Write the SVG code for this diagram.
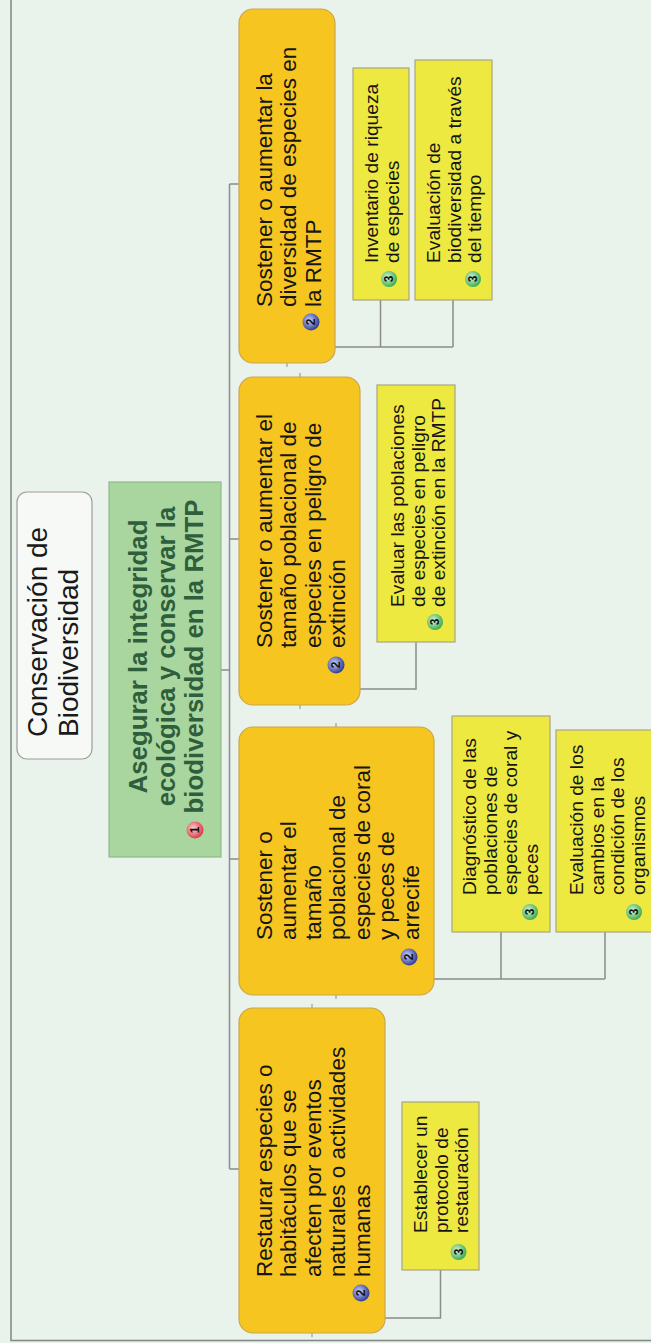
<svg xmlns="http://www.w3.org/2000/svg" width="651" height="1343" viewBox="0 0 651 1343">
<style>
.o{font-family:"Liberation Sans",Arial,sans-serif;font-size:22.5px;fill:#151515}
.y{font-family:"Liberation Sans",Arial,sans-serif;font-size:19.2px;fill:#151515}
.g{font-family:"Liberation Sans",Arial,sans-serif;font-size:25.8px;font-weight:bold;fill:#2F5E3C;text-anchor:middle}
.t{font-family:"Liberation Sans",Arial,sans-serif;font-size:28px;fill:#1a1a1a}
.bn{font-family:"Liberation Sans",Arial,sans-serif;font-size:12px;font-weight:bold;fill:#111;text-anchor:middle}
.orange{fill:#F6C51F;stroke:#C8A84E;stroke-width:1.2}
.yellow{fill:#EEE941;stroke:#A9A683;stroke-width:1.2}
.conn{fill:none;stroke:#8C8C8C;stroke-width:1.5}
.tick{stroke:#8C8C8C;stroke-width:1}
</style>
<defs>
<radialGradient id="b1" cx="0.4" cy="0.4" r="0.65"><stop offset="0" stop-color="#FFD0D0"/><stop offset="1" stop-color="#D9303E"/></radialGradient>
<radialGradient id="b2" cx="0.4" cy="0.4" r="0.65"><stop offset="0" stop-color="#C8D2FF"/><stop offset="1" stop-color="#26318C"/></radialGradient>
<radialGradient id="b3" cx="0.4" cy="0.4" r="0.65"><stop offset="0" stop-color="#D8F8D8"/><stop offset="1" stop-color="#34A646"/></radialGradient>
</defs>
<rect x="0" y="0" width="651" height="1343" fill="#EAF2EC"/>
<rect x="11" y="-5" width="650" height="1345.5" fill="none" stroke="#858585" stroke-width="1.5"/>

<g id="connectors">
<path class="conn" d="M221,670 H229.5 M229.5,184 V1169 M229.5,184 H239 M229.5,539 H239 M229.5,859 H239 M229.5,1169 H239"/>
<path class="conn" d="M335,347 H453 M380.5,347 V300 M453,347 V300"/>
<path class="conn" d="M360,689 H416 V642"/>
<path class="conn" d="M434,979 H605 M501,979 V932 M605,979 V932"/>
<path class="conn" d="M385,1318 H440.5 V1270"/>
<path class="tick" d="M287,363 V367 M300,373 V377 M300,705 V709 M336,723 V727 M336,995 V999 M312,1004 V1008 M312,1333 V1337"/>
</g>

<g id="title">
<rect x="17" y="492" width="75" height="267" rx="10" fill="#F6F9F6" stroke="#9C9C9C" stroke-width="1.2"/>
<text class="t" transform="translate(47,737) rotate(-90)"><tspan x="0" y="0">Conservación de</tspan><tspan x="0" y="31">Biodiversidad</tspan></text>
</g>

<g id="root">
<rect x="109" y="482" width="112" height="375" fill="#A9D69F" stroke="#8FBB88" stroke-width="1.2"/>
<text class="g" transform="translate(147,656.5) rotate(-90)"><tspan x="0" y="0">Asegurar la integridad</tspan><tspan x="0" y="28">ecológica y conservar la</tspan><tspan x="0" y="56">biodiversidad en la RMTP</tspan></text>
<g transform="translate(195,830)"><circle r="8.5" fill="url(#b1)"/><text class="bn" transform="rotate(-90)" y="4.3">1</text></g>
</g>

<g id="obj1">
<rect class="orange" x="239" y="9" width="96" height="354" rx="14"/>
<text class="o" transform="translate(271.5,307) rotate(-90)"><tspan x="0" y="0">Sostener o aumentar la</tspan><tspan x="0" y="24.5">diversidad de especies en</tspan><tspan x="0" y="49">la RMTP</tspan></text>
<g transform="translate(311,322)"><circle r="8.5" fill="url(#b2)"/><text class="bn" transform="rotate(-90)" y="4.3">2</text></g>
</g>

<g id="obj2">
<rect class="orange" x="239" y="377" width="121" height="328" rx="14"/>
<text class="o" transform="translate(271.5,648) rotate(-90)"><tspan x="0" y="0">Sostener o aumentar el</tspan><tspan x="0" y="24.5">tamaño poblacional de</tspan><tspan x="0" y="49">especies en peligro de</tspan><tspan x="0" y="73.5">extinción</tspan></text>
<g transform="translate(336,665)"><circle r="8.5" fill="url(#b2)"/><text class="bn" transform="rotate(-90)" y="4.3">2</text></g>
</g>

<g id="obj3">
<rect class="orange" x="239" y="727" width="195" height="268" rx="14"/>
<text class="o" transform="translate(271.5,940) rotate(-90)"><tspan x="0" y="0">Sostener o</tspan><tspan x="0" y="24.5">aumentar el</tspan><tspan x="0" y="49">tamaño</tspan><tspan x="0" y="73.5">poblacional de</tspan><tspan x="0" y="98">especies de coral</tspan><tspan x="0" y="122.5">y peces de</tspan><tspan x="0" y="147">arrecife</tspan></text>
<g transform="translate(409,957)"><circle r="8.5" fill="url(#b2)"/><text class="bn" transform="rotate(-90)" y="4.3">2</text></g>
</g>

<g id="obj4">
<rect class="orange" x="239" y="1008" width="146" height="325" rx="14"/>
<text class="o" transform="translate(271.5,1277) rotate(-90)"><tspan x="0" y="0">Restaurar especies o</tspan><tspan x="0" y="24.5">habitáculos que se</tspan><tspan x="0" y="49">afecten por eventos</tspan><tspan x="0" y="73.5">naturales o actividades</tspan><tspan x="0" y="98">humanas</tspan></text>
<g transform="translate(361,1293)"><circle r="8.5" fill="url(#b2)"/><text class="bn" transform="rotate(-90)" y="4.3">2</text></g>
</g>

<g id="act1">
<rect class="yellow" x="353" y="68" width="56" height="232"/>
<text class="y" transform="translate(378,263) rotate(-90)"><tspan x="0" y="0">Inventario de riqueza</tspan><tspan x="0" y="20.7">de especies</tspan></text>
<g transform="translate(389,279)"><circle r="8" fill="url(#b3)"/><text class="bn" transform="rotate(-90)" y="4.3">3</text></g>
</g>

<g id="act2">
<rect class="yellow" x="415" y="60" width="77" height="240"/>
<text class="y" transform="translate(440,263) rotate(-90)"><tspan x="0" y="0">Evaluación de</tspan><tspan x="0" y="20.7">biodiversidad a través</tspan><tspan x="0" y="41.4">del tiempo</tspan></text>
<g transform="translate(473,279)"><circle r="8" fill="url(#b3)"/><text class="bn" transform="rotate(-90)" y="4.3">3</text></g>
</g>

<g id="act3">
<rect class="yellow" x="377" y="385" width="78" height="257"/>
<text class="y" transform="translate(404,607) rotate(-90)"><tspan x="0" y="0">Evaluar las poblaciones</tspan><tspan x="0" y="20.7">de especies en peligro</tspan><tspan x="0" y="41.4">de extinción en la RMTP</tspan></text>
<g transform="translate(435,622)"><circle r="8" fill="url(#b3)"/><text class="bn" transform="rotate(-90)" y="4.3">3</text></g>
</g>

<g id="act4">
<rect class="yellow" x="452" y="716" width="98" height="216"/>
<text class="y" transform="translate(476,895) rotate(-90)"><tspan x="0" y="0">Diagnóstico de las</tspan><tspan x="0" y="20.7">poblaciones de</tspan><tspan x="0" y="41.4">especies de coral y</tspan><tspan x="0" y="62.1">peces</tspan></text>
<g transform="translate(530,912)"><circle r="8" fill="url(#b3)"/><text class="bn" transform="rotate(-90)" y="4.3">3</text></g>
</g>

<g id="act5">
<rect class="yellow" x="556" y="730" width="98" height="202"/>
<text class="y" transform="translate(583,895) rotate(-90)"><tspan x="0" y="0">Evaluación de los</tspan><tspan x="0" y="20.7">cambios en la</tspan><tspan x="0" y="41.4">condición de los</tspan><tspan x="0" y="62.1">organismos</tspan></text>
<g transform="translate(634,912)"><circle r="8" fill="url(#b3)"/><text class="bn" transform="rotate(-90)" y="4.3">3</text></g>
</g>

<g id="act6">
<rect class="yellow" x="402" y="1102" width="77" height="168"/>
<text class="y" transform="translate(427,1233) rotate(-90)"><tspan x="0" y="0">Establecer un</tspan><tspan x="0" y="20.7">protocolo de</tspan><tspan x="0" y="41.4">restauración</tspan></text>
<g transform="translate(458.5,1252)"><circle r="8" fill="url(#b3)"/><text class="bn" transform="rotate(-90)" y="4.3">3</text></g>
</g>
</svg>
